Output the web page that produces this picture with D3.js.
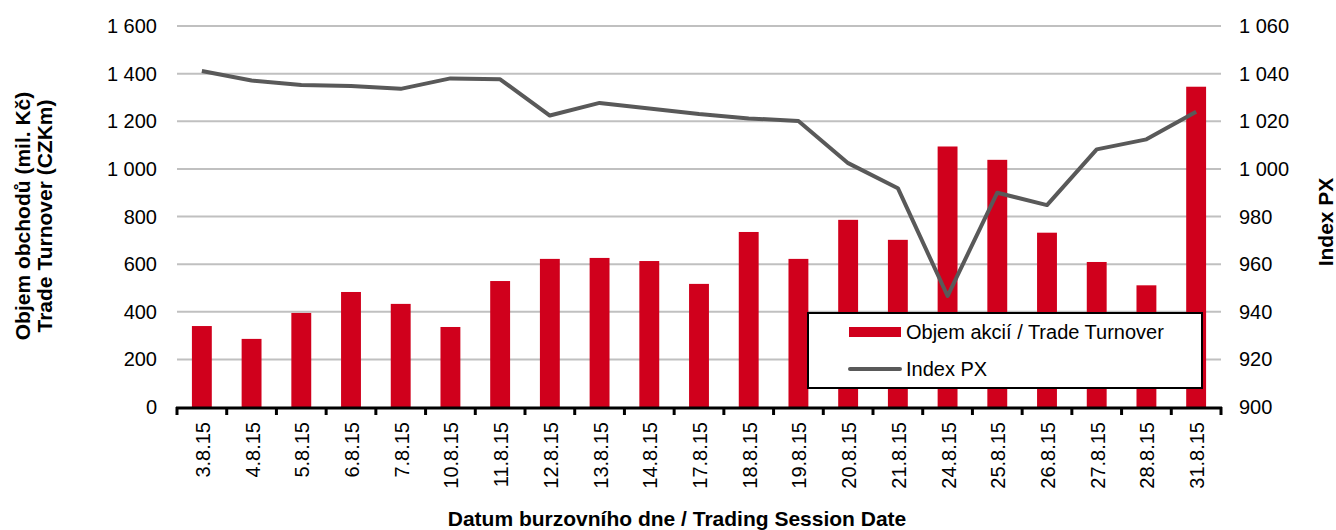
<!DOCTYPE html>
<html>
<head>
<meta charset="utf-8">
<script src="https://cdn.jsdelivr.net/npm/d3@7"></script>
<style>
  body { margin: 0; background: #fff; }
  text { font-family: "Liberation Sans", Arial, sans-serif; fill: #000; }
</style>
</head>
<body>
<div class="chart"></div>
<script>
var dates = ["3.8.15","4.8.15","5.8.15","6.8.15","7.8.15","10.8.15","11.8.15","12.8.15","13.8.15","14.8.15",
  "17.8.15","18.8.15","19.8.15","20.8.15","21.8.15","24.8.15","25.8.15","26.8.15","27.8.15","28.8.15","31.8.15"];
var turnover = [340, 286, 395, 483, 433, 336, 529, 622, 626, 613, 517, 735, 622, 786, 702, 1094, 1038, 732, 609, 511, 1345];
var indexPX = [1041.1, 1037.1, 1035.2, 1034.8, 1033.6, 1038, 1037.6, 1022.4, 1027.7, 1025.4, 1023, 1021.2, 1020.1,
  1002.4, 991.9, 946.6, 990, 984.8, 1008.2, 1012.4, 1024];
var leftTicks = [0, 200, 400, 600, 800, 1000, 1200, 1400, 1600];
var rightTicks = [900, 920, 940, 960, 980, 1000, 1020, 1040, 1060];

var W = 1336, H = 530;
var m = {left: 177, right: 1221, top: 26, bottom: 407};

var svg = d3.select(".chart").append("svg")
  .attr("width", W)
  .attr("height", H)

var fmt = function(v) { return d3.format(",")(v).replace(/,/g, " "); };

var x = d3.scaleBand().domain(dates).range([m.left, m.right]).paddingInner(0.6).paddingOuter(0.3);
var xTick = d3.scaleBand().domain(dates).range([m.left, m.right]);
var yL = d3.scaleLinear().domain([0, 1600]).range([m.bottom, m.top]);
var yR = d3.scaleLinear().domain([900, 1060]).range([m.bottom, m.top]);

// gridlines
svg.append("g").selectAll("line")
  .data(leftTicks.slice(1))
  .enter().append("line")
  .attr("x1", m.left).attr("x2", m.right)
  .attr("y1", function(d) { return yL(d); })
  .attr("y2", function(d) { return yL(d); })
  .style("stroke", "#c0c0c0")
  .style("stroke-width", 2)

// left axis labels
svg.append("g").selectAll("text")
  .data(leftTicks)
  .enter().append("text")
  .attr("x", 157)
  .attr("y", function(d) { return yL(d) + 7; })
  .attr("text-anchor", "end")
  .style("font-size", "20px")
  .text(fmt)

// right axis labels
svg.append("g").selectAll("text")
  .data(rightTicks)
  .enter().append("text")
  .attr("x", 1239)
  .attr("y", function(d) { return yR(d) + 7; })
  .attr("text-anchor", "start")
  .style("font-size", "20px")
  .text(fmt)

// bars
svg.append("g").selectAll("rect")
  .data(turnover)
  .enter().append("rect")
  .attr("x", function(d, i) { return x(dates[i]); })
  .attr("width", x.bandwidth())
  .attr("y", function(d) { return yL(d); })
  .attr("height", function(d) { return yL(0) - yL(d); })
  .style("fill", "#d0001c")

// index line
var line = d3.line()
  .x(function(d, i) { return xTick(dates[i]) + xTick.bandwidth() / 2; })
  .y(function(d) { return yR(d); });

svg.append("path")
  .datum(indexPX)
  .attr("d", line)
  .style("fill", "none")
  .style("stroke", "#595959")
  .style("stroke-width", 4)
  .style("stroke-linejoin", "round")

// x axis
svg.append("line")
  .attr("x1", m.left - 1).attr("x2", m.right + 1)
  .attr("y1", m.bottom + 1).attr("y2", m.bottom + 1)
  .style("stroke", "#000")
  .style("stroke-width", 3)

var tickXs = dates.map(function(d) { return xTick(d); }).concat([m.right]);
svg.append("g").selectAll("line")
  .data(tickXs)
  .enter().append("line")
  .attr("x1", function(d) { return d; }).attr("x2", function(d) { return d; })
  .attr("y1", m.bottom).attr("y2", m.bottom + 8)
  .style("stroke", "#000")
  .style("stroke-width", 3)

svg.append("g").selectAll("text")
  .data(dates)
  .enter().append("text")
  .attr("transform", function(d) {
    return "translate(" + (xTick(d) + xTick.bandwidth() / 2 + 8) + "," + (m.bottom + 15) + ") rotate(-90)";
  })
  .attr("text-anchor", "end")
  .style("font-size", "20px")
  .text(function(d) { return d; })

// axis titles
svg.append("text")
  .attr("x", 677).attr("y", 526)
  .attr("text-anchor", "middle")
  .style("font-size", "21px")
  .style("font-weight", "bold")
  .text("Datum burzovního dne / Trading Session Date")

svg.append("text")
  .attr("transform", "translate(30,216) rotate(-90)")
  .attr("text-anchor", "middle")
  .style("font-size", "21px")
  .style("font-weight", "bold")
  .text("Objem obchodů (mil. Kč)")

svg.append("text")
  .attr("transform", "translate(52,216) rotate(-90)")
  .attr("text-anchor", "middle")
  .style("font-size", "21px")
  .style("font-weight", "bold")
  .text("Trade Turnover (CZKm)")

svg.append("text")
  .attr("transform", "translate(1333,222) rotate(-90)")
  .attr("text-anchor", "middle")
  .style("font-size", "21px")
  .style("font-weight", "bold")
  .text("Index PX")

// legend
var legend = svg.append("g")
legend.append("rect")
  .attr("x", 808).attr("y", 313)
  .attr("width", 394).attr("height", 75)
  .style("fill", "#fff")
  .style("stroke", "#000")
  .style("stroke-width", 2)

legend.append("rect")
  .attr("x", 849).attr("y", 327)
  .attr("width", 52).attr("height", 10)
  .style("fill", "#d0001c")
legend.append("text")
  .attr("x", 906).attr("y", 339)
  .style("font-size", "20px")
  .text("Objem akcií / Trade Turnover")

legend.append("line")
  .attr("x1", 850).attr("x2", 900)
  .attr("y1", 369).attr("y2", 369)
  .style("stroke", "#595959")
  .style("stroke-width", 4)
  .style("stroke-linecap", "round")
legend.append("text")
  .attr("x", 906).attr("y", 376)
  .style("font-size", "20px")
  .text("Index PX")
</script>
</body>
</html>
